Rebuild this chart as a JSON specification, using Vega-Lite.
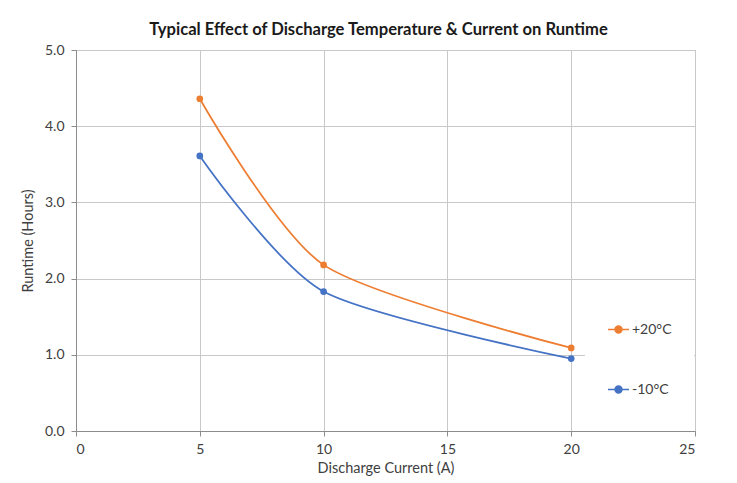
{
  "$schema": "https://vega.github.io/schema/vega-lite/v6.json",
  "autosize": {"type": "none"},
  "padding": {"left": 76, "top": 50, "right": 42, "bottom": 52},
  "width": 619,
  "height": 381,
  "background": "white",
  "title": {
    "text": "Typical Effect of Discharge Temperature & Current on Runtime",
    "font": "Lato",
    "fontSize": 16.6,
    "fontWeight": "bold",
    "color": "#1a1a1a",
    "anchor": "middle",
    "dx": -7,
    "offset": 4
  },
  "data": {
    "values": [
      {"series": "+20°C", "current": 5, "runtime": 4.36},
      {"series": "+20°C", "current": 10, "runtime": 2.18},
      {"series": "+20°C", "current": 20, "runtime": 1.09},
      {"series": "-10°C", "current": 5, "runtime": 3.61},
      {"series": "-10°C", "current": 10, "runtime": 1.83},
      {"series": "-10°C", "current": 20, "runtime": 0.95}
    ]
  },
  "encoding": {
    "x": {
      "field": "current",
      "type": "quantitative",
      "scale": {"domain": [0, 25], "nice": false, "zero": true},
      "axis": {
        "title": "Discharge Current (A)",
        "values": [0, 5, 10, 15, 20, 25],
        "format": "d",
        "grid": true,
        "gridColor": "#c8c8c8",
        "tickColor": "#8c8c8c",
        "domainColor": "#8c8c8c",
        "tickSize": 5,
        "labelPadding": 6,
        "titlePadding": 5
      }
    },
    "y": {
      "field": "runtime",
      "type": "quantitative",
      "scale": {"domain": [0, 5], "nice": false},
      "axis": {
        "title": "Runtime (Hours)",
        "values": [0, 1, 2, 3, 4, 5],
        "format": ".1f",
        "grid": true,
        "gridColor": "#c8c8c8",
        "tickColor": "#8c8c8c",
        "domainColor": "#8c8c8c",
        "tickSize": 5,
        "labelPadding": 7,
        "titlePadding": 9
      }
    },
    "color": {
      "field": "series",
      "type": "nominal",
      "scale": {"domain": ["+20°C", "-10°C"], "range": ["#ED7D31", "#4472C4"]},
      "legend": {
        "title": null,
        "orient": "none",
        "legendX": 509,
        "legendY": 246,
        "fillColor": "white",
        "padding": 22,
        "rowPadding": 41,
        "symbolType": "M-1,0H-0.33A0.33,0.33 0 1,1 0.33,0A0.33,0.33 0 1,1 -0.33,0ZM0.33,0H1",
        "symbolSize": 441,
        "symbolStrokeWidth": 1.5,
        "labelOffset": 2,
        "labelFontSize": 14,
        "labelFont": "Lato",
        "labelColor": "#404040",
        "encode": {
          "symbols": {
            "update": {
              "fill": {"scale": "color", "field": "value"},
              "stroke": {"scale": "color", "field": "value"},
              "fillOpacity": {"value": 1},
              "strokeOpacity": {"value": 1}
            }
          }
        }
      }
    }
  },
  "layer": [
    {"mark": {"type": "line", "interpolate": "cardinal", "tension": 0.25, "strokeWidth": 1.75}},
    {"mark": {"type": "point", "filled": true, "size": 45, "opacity": 1}}
  ],
  "config": {
    "font": "Lato",
    "view": {"stroke": "#8c8c8c"},
    "axis": {
      "labelFont": "Lato",
      "labelFontSize": 14,
      "labelColor": "#404040",
      "titleFont": "Lato",
      "titleFontSize": 14.5,
      "titleFontWeight": "normal",
      "titleColor": "#404040"
    }
  }
}
